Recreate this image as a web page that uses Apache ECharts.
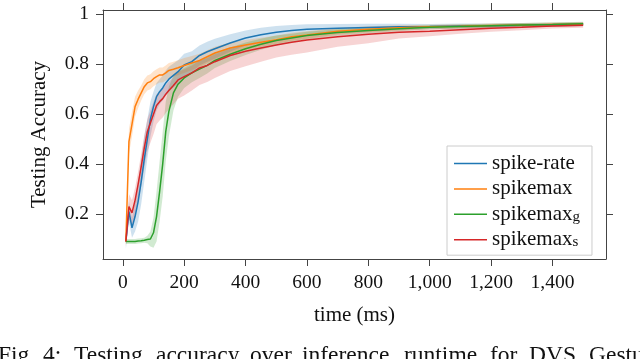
<!DOCTYPE html>
<html><head><meta charset="utf-8">
<script src="https://cdn.jsdelivr.net/npm/echarts@6/dist/echarts.min.js"></script>
<style>html,body{margin:0;padding:0;background:#fff}#c{width:640px;height:359px}</style>
</head><body><div id="c"></div>
<script>
// time points (ms)
const times = [10,20,30,40,50,60,70,80,90,100,110,120,130,140,150,165,180,200,225,250,275,300,350,400,450,500,550,600,700,800,900,1000,1100,1200,1300,1400,1500];

// mean testing accuracy
const spikeRate = [0.09,0.21,0.145,0.19,0.25,0.33,0.42,0.50,0.58,0.63,0.67,0.69,0.705,0.725,0.74,0.755,0.77,0.797,0.81,0.835,0.85,0.862,0.885,0.905,0.918,0.928,0.935,0.94,0.944,0.947,0.95,0.951,0.953,0.954,0.956,0.958,0.96];
const spikemax  = [0.09,0.49,0.56,0.63,0.66,0.685,0.71,0.725,0.73,0.742,0.75,0.757,0.757,0.765,0.775,0.78,0.786,0.795,0.805,0.815,0.83,0.845,0.865,0.877,0.888,0.898,0.91,0.917,0.932,0.94,0.946,0.95,0.952,0.955,0.957,0.959,0.961];
const spikemaxG = [0.09,0.09,0.09,0.09,0.092,0.093,0.095,0.098,0.10,0.125,0.19,0.29,0.40,0.53,0.61,0.685,0.72,0.745,0.765,0.78,0.795,0.815,0.84,0.862,0.88,0.895,0.905,0.915,0.927,0.935,0.942,0.948,0.951,0.954,0.957,0.959,0.962];
const spikemaxS = [0.09,0.23,0.205,0.255,0.32,0.39,0.465,0.53,0.565,0.60,0.635,0.65,0.662,0.68,0.695,0.715,0.737,0.75,0.765,0.785,0.795,0.81,0.835,0.852,0.865,0.877,0.888,0.897,0.91,0.92,0.928,0.932,0.938,0.944,0.948,0.953,0.956];

// spread of the shaded bands
const spikeRateDev = [0.03,0.04,0.04,0.06,0.08,0.09,0.09,0.08,0.07,0.06,0.055,0.05,0.05,0.05,0.05,0.048,0.046,0.045,0.042,0.04,0.04,0.04,0.035,0.03,0.028,0.025,0.022,0.02,0.017,0.015,0.012,0.01,0.01,0.009,0.009,0.008,0.008];
const spikemaxDev  = [0.02,0.05,0.05,0.04,0.035,0.03,0.03,0.03,0.03,0.03,0.03,0.03,0.03,0.03,0.03,0.03,0.03,0.03,0.028,0.027,0.026,0.025,0.022,0.02,0.018,0.017,0.016,0.015,0.013,0.012,0.01,0.008,0.008,0.008,0.008,0.008,0.008];
const spikemaxGDev = [0.01,0.01,0.01,0.01,0.01,0.01,0.01,0.015,0.03,0.06,0.10,0.12,0.13,0.12,0.10,0.07,0.05,0.04,0.037,0.035,0.032,0.03,0.027,0.025,0.022,0.02,0.017,0.015,0.013,0.012,0.01,0.008,0.008,0.008,0.008,0.008,0.008];
const spikemaxSDevLo = [0.02,0.05,0.05,0.06,0.07,0.08,0.08,0.08,0.08,0.08,0.075,0.075,0.075,0.075,0.075,0.075,0.075,0.075,0.07,0.068,0.066,0.065,0.062,0.06,0.055,0.05,0.05,0.05,0.04,0.036,0.025,0.02,0.016,0.014,0.012,0.01,0.01];
const spikemaxSDevHi = [0.02,0.05,0.05,0.05,0.05,0.05,0.05,0.05,0.05,0.05,0.045,0.04,0.04,0.037,0.035,0.033,0.032,0.03,0.03,0.03,0.03,0.03,0.027,0.025,0.023,0.022,0.021,0.02,0.017,0.015,0.012,0.01,0.01,0.01,0.01,0.01,0.01];

const seriesNames = ['spike-rate','spikemax','spikemax_g','spikemax_s'];
const xTicks = [0,200,400,600,800,1000,1200,1400];
const yTicks = [0.2,0.4,0.6,0.8,1];

const captionWords = ['Fig.','4:','Testing','accuracy','over','inference','runtime','for','DVS','Gesture'];
const captionX = [-2,43,74,156,250,302,404,490,529,589];

const colors = ['#1f77b4','#ff7f0e','#2ca02c','#d62728'];
const bandFill = ['rgba(31,119,180,0.22)','rgba(255,127,14,0.22)','rgba(44,160,44,0.22)','rgba(214,39,40,0.2)'];
const FONT = 'Liberation Serif';

function band(mean, lo, hi, fill){
  return {
    type:'custom', silent:true, z:1, clip:false, xAxisIndex:0, yAxisIndex:0,
    data:[[times[0], mean[0]]],
    renderItem:function(params, api){
      const pts=[];
      for(let i=0;i<times.length;i++) pts.push(api.coord([times[i], mean[i]+hi[i]]));
      for(let i=times.length-1;i>=0;i--) pts.push(api.coord([times[i], mean[i]-lo[i]]));
      return {type:'polygon', shape:{points:pts}, style:{fill:fill, stroke:null}};
    }
  };
}
function line(name, arr, color){
  return {
    type:'line', name:name, xAxisIndex:0, yAxisIndex:0, z:3,
    symbol:'none', showSymbol:false, color:color,
    lineStyle:{width:1.5, color:color},
    data: times.map((t,i)=>[t, arr[i]])
  };
}

const means = [spikeRate, spikemax, spikemaxG, spikemaxS];
const devLo = [spikeRateDev, spikemaxDev, spikemaxGDev, spikemaxSDevLo];
const devHi = [spikeRateDev, spikemaxDev, spikemaxGDev, spikemaxSDevHi];

const series = [];
for(let k=0;k<4;k++) series.push(band(means[k], devLo[k], devHi[k], bandFill[k]));
for(let k=0;k<4;k++) series.push(line(seriesNames[k], means[k], colors[k]));

const axisColor = '#444';
const xRange = {min:-64.5, max:1574.5};
const yRange = {min:0.02, max:1.017};

const chart = echarts.init(document.getElementById('c'), null, {renderer:'canvas'});
chart.setOption({
  animation:false,
  backgroundColor:'#fff',
  grid:{left:103, right:34, top:10, bottom:100, containLabel:false, outerBoundsMode:'none'},
  xAxis:[{
    type:'value', position:'bottom', min:xRange.min, max:xRange.max,
    name:'time (ms)', nameLocation:'middle', nameGap:46,
    nameTextStyle:{fontFamily:FONT, fontSize:21, color:'#111'},
    axisLine:{show:true, onZero:false, lineStyle:{color:axisColor, width:1}},
    axisTick:{show:true, inside:false, length:7, customValues:xTicks, lineStyle:{color:axisColor}},
    axisLabel:{show:true, customValues:xTicks, margin:14, fontFamily:FONT, fontSize:19.5, color:'#111',
      formatter:v=>Number(v).toLocaleString('en-US')},
    splitLine:{show:false}
  },{
    type:'value', position:'top', min:xRange.min, max:xRange.max,
    axisLine:{show:true, onZero:false, lineStyle:{color:axisColor, width:1}},
    axisTick:{show:true, inside:false, length:7, customValues:xTicks, lineStyle:{color:axisColor}},
    axisLabel:{show:false}, splitLine:{show:false}
  }],
  yAxis:[{
    type:'value', position:'left', min:yRange.min, max:yRange.max,
    name:'Testing Accuracy', nameLocation:'middle', nameGap:53, nameRotate:90,
    nameTextStyle:{fontFamily:FONT, fontSize:21, color:'#111'},
    axisLine:{show:true, onZero:false, lineStyle:{color:axisColor, width:1}},
    axisTick:{show:true, inside:false, length:7, customValues:yTicks, lineStyle:{color:axisColor}},
    axisLabel:{show:true, customValues:yTicks, margin:14, fontFamily:FONT, fontSize:19.5, color:'#111',
      formatter:v=>(Math.abs(v-1)<1e-9?'1':Number(v).toFixed(1))},
    splitLine:{show:false}
  },{
    type:'value', position:'right', min:yRange.min, max:yRange.max,
    axisLine:{show:true, onZero:false, lineStyle:{color:axisColor, width:1}},
    axisTick:{show:true, inside:false, length:7, customValues:yTicks, lineStyle:{color:axisColor}},
    axisLabel:{show:false}, splitLine:{show:false}
  }],
  legend:{
    orient:'vertical', left:447, top:146,
    padding:[7,12,5,7], itemWidth:33, itemHeight:10, itemGap:4.4,
    backgroundColor:'#fff', borderColor:'#ccc', borderWidth:1, borderRadius:0,
    data:seriesNames,
    icon:'path://M0,0 L33,0 L33,1.5 L0,1.5 Z',
    textStyle:{fontFamily:FONT, fontSize:21, color:'#111', lineHeight:20,
      rich:{
        m:{fontFamily:FONT, fontSize:21, color:'#111', lineHeight:20},
        s:{fontFamily:FONT, fontSize:15, color:'#111', lineHeight:8, verticalAlign:'bottom'}
      }},
    formatter:function(n){
      const p = n.split('_');
      return p.length>1 ? '{m|'+p[0]+'}{s|'+p[1]+'}' : n;
    }
  },
  graphic: captionWords.map((w,i)=>({
    type:'text', x:captionX[i], y:356, silent:true, z:10,
    style:{text:w, fontFamily:FONT, fontSize:23.5, fill:'#111', verticalAlign:'middle', align:'left'}
  })),
  series: series
});
</script></body></html>
